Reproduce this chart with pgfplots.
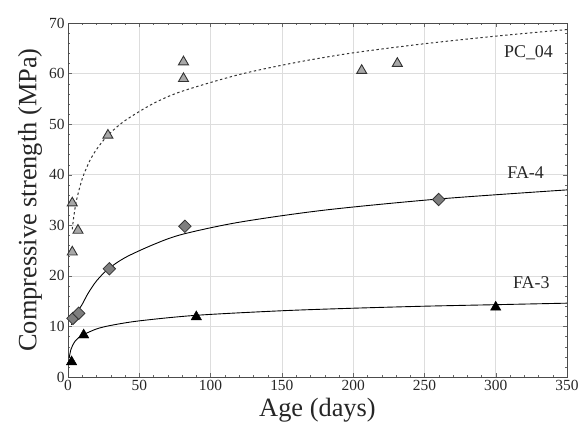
\documentclass[border=0pt]{standalone}
\usepackage{fontspec}
\setmainfont{Liberation Serif}
\usepackage{pgfplots}
\pgfplotsset{compat=1.18}

\definecolor{gridgray}{HTML}{DDDDDD}
\definecolor{pcfill}{HTML}{A8A8A8}
\definecolor{fafill}{HTML}{7E7E7E}

\begin{document}
\begin{tikzpicture}
\useasboundingbox (0,0) rectangle (583bp,437bp);
\begin{axis}[
    at={(68bp,60bp)}, anchor=south west,
    scale only axis, width=499bp, height=354bp,
    xmin=0, xmax=350, ymin=0, ymax=70,
    xtick={0,50,100,150,200,250,300,350},
    xticklabels={0,50,100,150,200,250,300,350},
    ytick={0,10,20,30,40,50,60,70},
    yticklabels={0,10,20,30,40,50,60,70},
    minor x tick num=4, minor y tick num=4,
    tick align=inside, major tick length=4bp, minor tick length=2bp,
    grid=major, major grid style={gridgray, line width=0.5pt},
    axis line style={black!70, line width=0.8pt},
    tick style={black!60},
    every tick label/.append style={font=\fontsize{15.5}{16}\selectfont, text=black!85},
    xlabel={Age (days)}, ylabel={Compressive strength (MPa)},
    label style={font=\fontsize{26.5}{28}\selectfont, text=black!85},
    clip=false,
]
% PC_04 fit (dotted)
\addplot[black!80, line width=1pt, dash pattern=on 2.4pt off 2.6pt, smooth] coordinates {
    (3,29.2) (4,31.6) (6,35.0) (10,39.2) (15,42.6) (20,45.0) (28,47.8)
    (40,50.7) (60,54.1) (80,56.5) (120,59.8) (160,62.2) (200,64.1)
    (250,65.9) (300,67.4) (350,68.7)
};
% FA-4 fit
\addplot[black, line width=0.9pt, smooth] coordinates {
    (2.5,10.3) (5,12.3) (9.6,14.2) (14,16.5) (20,19.0) (28,21.3)
    (40,23.6) (60,26.2) (80,28.2) (120,30.6) (180,33.0) (260,35.2) (350,37.0)
};
% FA-3 fit
\addplot[black, line width=0.9pt, smooth] coordinates {
    (0.8,3.8) (2,5.4) (3,6.1) (5,7.1) (8,7.9) (11,8.4) (20,9.5) (30,10.2)
    (50,11.1) (90,12.2) (150,13.1) (200,13.6) (250,14.0) (300,14.3) (350,14.6)
};
% PC_04 data
\addplot[only marks, mark=triangle*, mark size=5.8bp,
    mark options={fill=pcfill, draw=black!80, line width=0.9pt}] coordinates {
    (3,34.4) (3,24.7) (7,29.0) (28,47.8) (81,62.3) (81,59.0) (206,60.6) (231,62.0)
};
% FA-4 data
\addplot[only marks, mark=square*, mark size=4.4bp,
    mark options={rotate=45, fill=fafill, draw=black!80, line width=0.8pt}] coordinates {
    (3.5,11.6) (7.5,12.6) (29,21.4) (82,29.8) (260,35.1)
};
% FA-3 data
\addplot[only marks, mark=triangle*, mark size=6bp,
    mark options={fill=black, draw=black}] coordinates {
    (2.5,3.0) (11,8.3) (90,11.9) (300,13.8)
};
\node[font=\fontsize{18}{18}\selectfont, text=black!85] at (axis cs:323,64.1) {PC\_04};
\node[font=\fontsize{18}{18}\selectfont, text=black!85] at (axis cs:321,40.5) {FA-4};
\node[font=\fontsize{18}{18}\selectfont, text=black!85] at (axis cs:325,18.6) {FA-3};
\end{axis}
\end{tikzpicture}
\end{document}
